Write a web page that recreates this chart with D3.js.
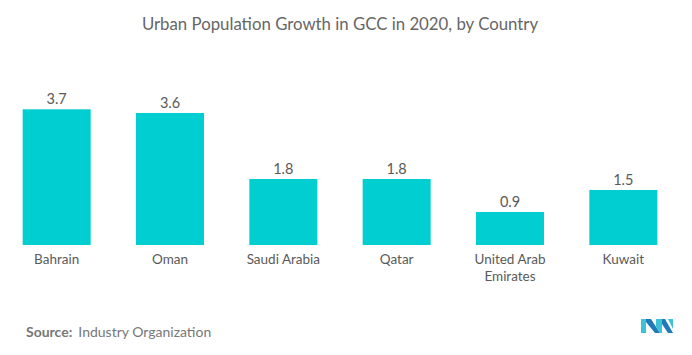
<!DOCTYPE html>
<html><head><meta charset="utf-8">
<script src="https://cdn.jsdelivr.net/npm/d3@7"></script>
<style>body{margin:0;background:#fff}svg{display:block}text{font-family:Lato,"Open Sans",sans-serif}</style>
</head><body><svg id="c" width="692" height="355"></svg>
<script>
const categories = ["Bahrain","Oman","Saudi Arabia","Qatar","United Arab Emirates","Kuwait"];
const labelLines = [["Bahrain"],["Oman"],["Saudi Arabia"],["Qatar"],["United Arab","Emirates"],["Kuwait"]];
const values = [3.7,3.6,1.8,1.8,0.9,1.5];
const title = "Urban Population Growth in GCC in 2020, by Country";

const svg = d3.select("#c");
const x = d3.scaleBand().domain(categories).range([0,680]).paddingInner(0.4).paddingOuter(0.2);
const y = d3.scaleLinear().domain([0,3.7]).range([245,109.3]);

svg.append("text").attr("x",340).attr("y",30).attr("text-anchor","middle")
  .attr("fill","#666").style("font-size","16.8px").text(title);

svg.selectAll("rect.bar").data(values).join("rect").attr("class","bar")
  .attr("x",(d,i)=>x(categories[i])).attr("width",x.bandwidth())
  .attr("y",d=>y(d)).attr("height",d=>y(0)-y(d)).attr("fill","#00CED1");

svg.selectAll("text.val").data(values).join("text").attr("class","val")
  .attr("x",(d,i)=>x(categories[i])+x.bandwidth()/2).attr("y",d=>y(d)-5)
  .attr("text-anchor","middle").attr("fill","#5a5a5a").style("font-size","14.5px")
  .text(d=>d3.format(".1f")(d));

const cl = svg.selectAll("text.cat").data(labelLines).join("text").attr("class","cat")
  .attr("text-anchor","middle").attr("fill","#5a5a5a").style("font-size","13.5px")
  .attr("transform",(d,i)=>`translate(${x(categories[i])+x.bandwidth()/2},264)`);
cl.selectAll("tspan").data(d=>d).join("tspan").attr("x",0).attr("dy",(d,j)=>j?17:0).text(d=>d);

const src = svg.append("text").attr("x",26).attr("y",337).attr("fill","#777").style("font-size","14px");
src.append("tspan").attr("font-weight","bold").text("Source:");
src.append("tspan").attr("dx",6).text("Industry Organization");

const lg = svg.append("g").attr("transform","translate(641,319)");
lg.append("polygon").attr("points","0,0 5,0 5,14 0,14").attr("fill","#3cc4d4");
lg.append("polygon").attr("points","5,0 10,0 19,14 14,14 5,3").attr("fill","#1f7ab8");
lg.append("polygon").attr("points","15,0 21,0 21,14 19,14 15,8").attr("fill","#3cc4d4");
lg.append("polygon").attr("points","21,0 24,0 32,14 27,14 21,5").attr("fill","#1f7ab8");
lg.append("polygon").attr("points","27,0 32,0 32,10").attr("fill","#3cc4d4");
</script></body></html>
